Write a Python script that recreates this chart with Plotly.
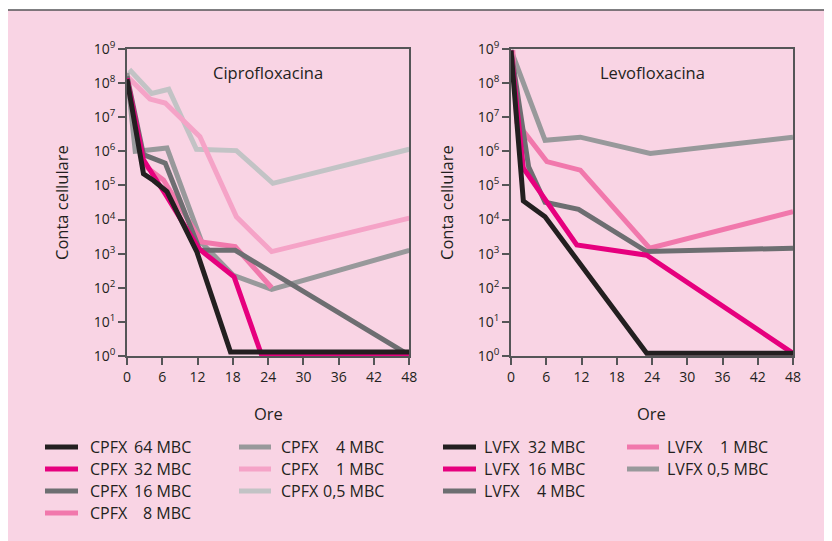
import plotly.graph_objects as go

# ---------------- DATA ----------------
hour_ticks = [0, 6, 12, 18, 24, 30, 36, 42, 48]
y_tickvals = [1, 1e1, 1e2, 1e3, 1e4, 1e5, 1e6, 1e7, 1e8, 1e9]
y_ticktext = ["10<sup>%d</sup>" % i for i in range(10)]

# Ciprofloxacina (CPFX)
cpfx64_h = [0, 2.8, 4.5, 6.8, 11.9, 17.6, 48]
cpfx64 = [1.3e8, 2.2e5, 1.4e5, 6.6e4, 1.1e3, 1.3, 1.3]
cpfx32_h = [0, 2.8, 6.5, 12.2, 18.2, 22.9, 48]
cpfx32 = [1.4e8, 5.6e5, 5.6e4, 1.4e3, 2.1e2, 1.05, 1.05]
cpfx16_h = [0, 2.8, 6.5, 12.4, 18.4, 48]
cpfx16 = [1.6e8, 8e5, 4.5e5, 1.25e3, 1.25e3, 1.05]
cpfx8_h = [0, 2.8, 6.2, 12.7, 18.4, 24.6]
cpfx8 = [1.25e8, 4e5, 1.45e5, 2.2e3, 1.6e3, 1e2]
cpfx4_h = [0, 1.4, 3.7, 6.8, 12.8, 18.1, 24.6, 48]
cpfx4 = [2e8, 1e6, 1.1e6, 1.25e6, 2e3, 2.3e2, 9e1, 1.25e3]
cpfx1_h = [0, 3.9, 6.5, 12.4, 18.6, 24.6, 48]
cpfx1 = [1.6e8, 3.4e7, 2.6e7, 2.7e6, 1.2e4, 1.15e3, 1.1e4]
cpfx05_h = [0.4, 4.2, 7.1, 11.8, 18.6, 24.8, 48]
cpfx05 = [2.5e8, 5e7, 6.6e7, 1.15e6, 1.05e6, 1.15e5, 1.15e6]

# Levofloxacina (LVFX)
lvfx32_h = [0, 2.1, 5.8, 23.1, 48]
lvfx32 = [9e8, 3.5e4, 1.2e4, 1.2, 1.2]
lvfx16_h = [0, 2.1, 11.2, 23.1, 48]
lvfx16 = [9e8, 3.2e5, 1.8e3, 9e2, 1.2]
lvfx4_h = [0, 3, 5.8, 11.5, 23.1, 48]
lvfx4 = [9e8, 3.5e5, 3.2e4, 2e4, 1.15e3, 1.45e3]
lvfx1_h = [0.3, 1, 6.1, 11.8, 23.6, 48]
lvfx1 = [9.3e8, 7e6, 5e5, 2.8e5, 1.45e3, 1.7e4]
lvfx05_h = [0, 5.8, 11.8, 23.7, 48]
lvfx05 = [9.3e8, 2.1e6, 2.6e6, 8.7e5, 2.6e6]

# legend labels (drug, dose)
cpfx_col1 = [("CPFX", "64 MBC"), ("CPFX", "32 MBC"), ("CPFX", "16 MBC"), ("CPFX", "8 MBC")]
cpfx_col2 = [("CPFX", "4 MBC"), ("CPFX", "1 MBC"), ("CPFX", "0,5 MBC")]
lvfx_col1 = [("LVFX", "32 MBC"), ("LVFX", "16 MBC"), ("LVFX", "4 MBC")]
lvfx_col2 = [("LVFX", "1 MBC"), ("LVFX", "0,5 MBC")]

# ---------------- STYLE ----------------
C_BLACK = "#231f20"
C_MAGENTA = "#e6007e"
C_DGREY = "#6d6e71"
C_PINK = "#f178ac"
C_MGREY = "#98999b"
C_LPINK = "#f5a3c7"
C_LGREY = "#c2c3c5"
BG = "#f9d4e4"
AX = "#555557"
TXT = "#231f20"
FONT = "Open Sans"
WEIGHT = 500
LW = 5

W, H = 832, 541
OFF = 8  # page body margin
# plot area in screen pixels
L, R, T, B = 127, 793, 49, 356


def px(x):
    return (x - L) / (R - L)


def py(y):
    return (B - y) / (B - T)


fig = go.Figure()

left = [
    (cpfx05_h, cpfx05, C_LGREY, "CPFX 0,5 MBC"),
    (cpfx1_h, cpfx1, C_LPINK, "CPFX 1 MBC"),
    (cpfx4_h, cpfx4, C_MGREY, "CPFX 4 MBC"),
    (cpfx8_h, cpfx8, C_PINK, "CPFX 8 MBC"),
    (cpfx16_h, cpfx16, C_DGREY, "CPFX 16 MBC"),
    (cpfx32_h, cpfx32, C_MAGENTA, "CPFX 32 MBC"),
    (cpfx64_h, cpfx64, C_BLACK, "CPFX 64 MBC"),
]
right = [
    (lvfx05_h, lvfx05, C_MGREY, "LVFX 0,5 MBC"),
    (lvfx1_h, lvfx1, C_PINK, "LVFX 1 MBC"),
    (lvfx4_h, lvfx4, C_DGREY, "LVFX 4 MBC"),
    (lvfx16_h, lvfx16, C_MAGENTA, "LVFX 16 MBC"),
    (lvfx32_h, lvfx32, C_BLACK, "LVFX 32 MBC"),
]
for xs, ys, c, n in left:
    fig.add_trace(go.Scatter(x=xs, y=ys, mode="lines", name=n, showlegend=False,
                             line=dict(color=c, width=LW), xaxis="x", yaxis="y"))
for xs, ys, c, n in right:
    fig.add_trace(go.Scatter(x=xs, y=ys, mode="lines", name=n, showlegend=False,
                             line=dict(color=c, width=LW), xaxis="x2", yaxis="y2"))

TICKFONT = dict(family=FONT, size=14, color=TXT, weight=WEIGHT)
xax = dict(range=[0, 48], tickvals=hour_ticks, ticks="outside", ticklen=7, tickwidth=1.5,
           tickcolor=AX, showline=True, linecolor=AX, linewidth=1.5, mirror=True,
           showgrid=False, zeroline=False, tickfont=TICKFONT)
yax = dict(type="log", range=[0, 9], tickvals=y_tickvals, ticktext=y_ticktext,
           ticks="outside", ticklen=7, tickwidth=1.5, tickcolor=AX, showline=True,
           linecolor=AX, linewidth=1.5, mirror=True, showgrid=False, zeroline=False,
           tickfont=TICKFONT)

shapes = [
    dict(type="rect", xref="paper", yref="paper", x0=px(7), x1=px(845), y0=py(560), y1=py(10),
         fillcolor=BG, line=dict(width=0), layer="below"),
    dict(type="line", xref="paper", yref="paper", x0=px(7), x1=px(845), y0=py(10), y1=py(10),
         line=dict(color=AX, width=1.5), layer="below"),
    dict(type="line", xref="paper", yref="paper", x0=px(7), x1=px(7), y0=py(10), y1=py(560),
         line=dict(color=AX, width=1.5), layer="below"),
]
colors_map = {
    "CPFX 64 MBC": C_BLACK, "CPFX 32 MBC": C_MAGENTA, "CPFX 16 MBC": C_DGREY,
    "CPFX 8 MBC": C_PINK, "CPFX 4 MBC": C_MGREY, "CPFX 1 MBC": C_LPINK,
    "CPFX 0,5 MBC": C_LGREY, "LVFX 32 MBC": C_BLACK, "LVFX 16 MBC": C_MAGENTA,
    "LVFX 4 MBC": C_DGREY, "LVFX 1 MBC": C_PINK, "LVFX 0,5 MBC": C_MGREY,
}
rows = [447, 469, 491, 513]
annotations = []
LEGFONT = dict(family=FONT, size=16, color=TXT, weight=WEIGHT)
# (entries, line x0, line x1, drug text x, dose right edge)
cols = [
    (cpfx_col1, 45, 78, 88, 193),
    (cpfx_col2, 239, 271, 279, 386),
    (lvfx_col1, 443, 476, 482, 587),
    (lvfx_col2, 627, 659, 665, 770),
]
for entries, lx0, lx1, tx, dx in cols:
    for i, (drug, dose) in enumerate(entries):
        yy = py(rows[i])
        shapes.append(dict(type="line", xref="paper", yref="paper", x0=px(lx0), x1=px(lx1),
                           y0=yy, y1=yy, line=dict(color=colors_map[drug + " " + dose], width=LW)))
        annotations.append(dict(text=drug, x=px(tx), y=yy, xref="paper", yref="paper",
                                xanchor="left", yanchor="middle", showarrow=False, font=LEGFONT))
        annotations.append(dict(text=dose, x=px(dx), y=yy, xref="paper", yref="paper",
                                xanchor="right", yanchor="middle", showarrow=False, font=LEGFONT))

TFONT = dict(family=FONT, size=16.5, color=TXT, weight=WEIGHT)
for text, x, y, ang in [
    ("Ciprofloxacina", 268, 72, 0), ("Levofloxacina", 652, 72, 0),
    ("Ore", 268, 413, 0), ("Ore", 651, 413, 0),
    ("Conta cellulare", 61, 203, -90), ("Conta cellulare", 446, 203, -90),
]:
    annotations.append(dict(text=text, x=px(x), y=py(y), xref="paper", yref="paper",
                            xanchor="center", yanchor="middle", showarrow=False,
                            textangle=ang, font=TFONT))

ml, mt = L - OFF, T - OFF
mr = W - ml - (R - L)
mb = H - mt - (B - T)
fig.update_layout(
    width=W, height=H,
    margin=dict(l=ml, r=mr, t=mt, b=mb, pad=0),
    paper_bgcolor="white", plot_bgcolor="rgba(0,0,0,0)",
    xaxis=dict(domain=[0, px(409.3)], anchor="y", **xax),
    yaxis=dict(domain=[0, 1], anchor="x", **yax),
    xaxis2=dict(domain=[px(511), 1], anchor="y2", **xax),
    yaxis2=dict(domain=[0, 1], anchor="x2", **yax),
    shapes=shapes, annotations=annotations, showlegend=False,
)

fig.write_html("out.html")
